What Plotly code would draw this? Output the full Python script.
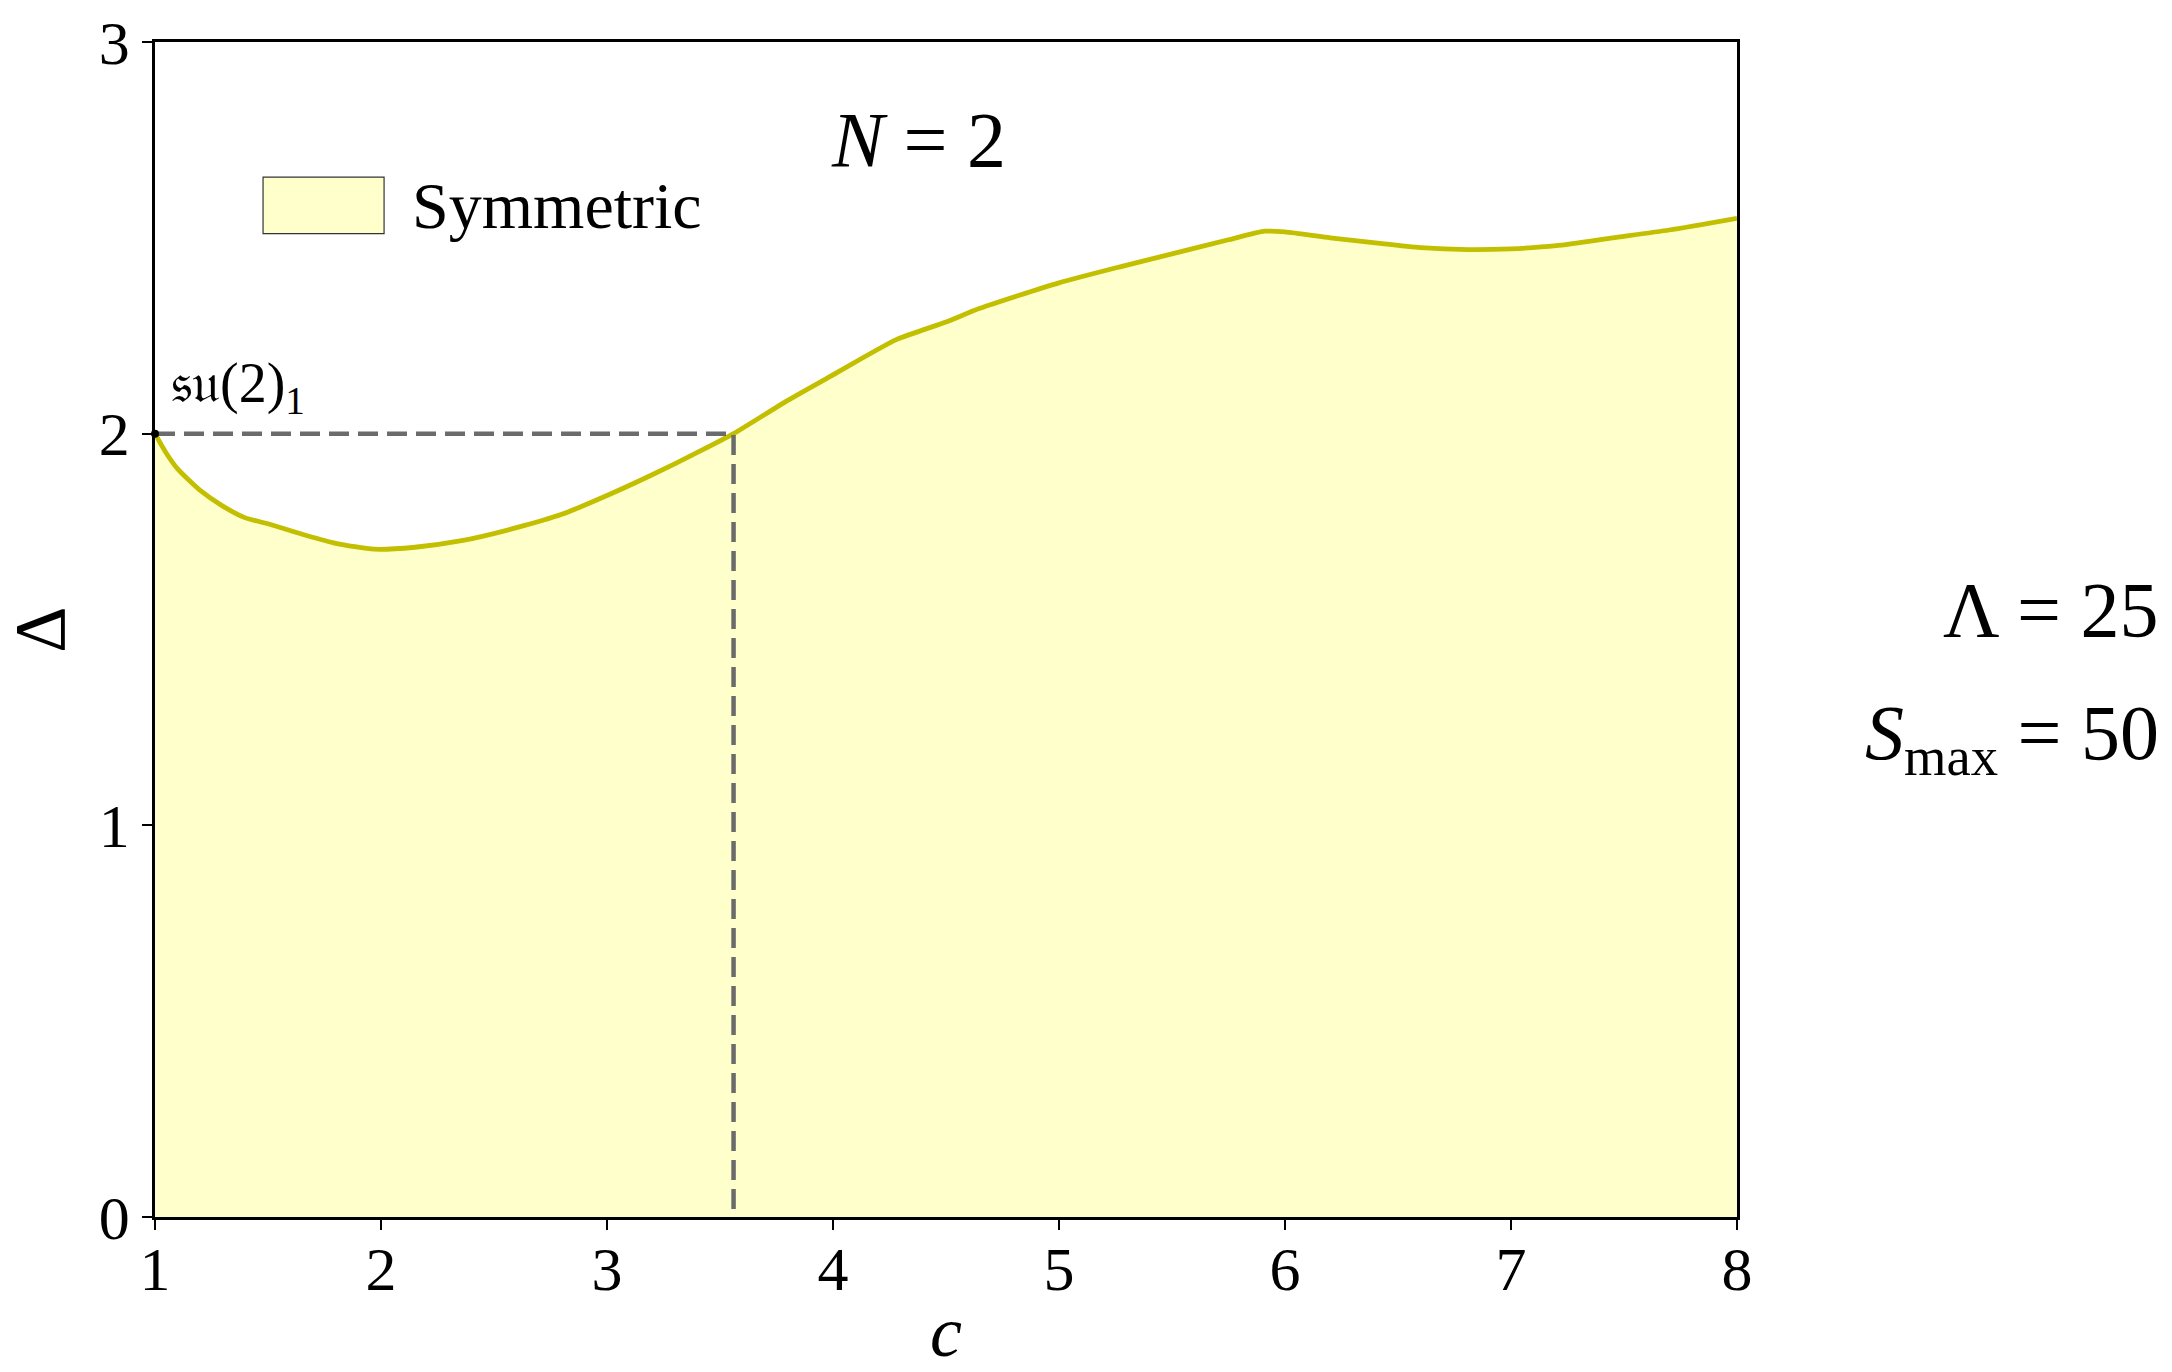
import plotly.graph_objects as go

# Upper boundary of the allowed region (symmetric case)
c_vals = [1.0, 1.05, 1.1, 1.2, 1.3, 1.4, 1.5, 1.67, 1.8, 1.97, 2.15, 2.35, 2.6, 2.8,
          3.0, 3.2, 3.4, 3.56, 3.8, 4.0, 4.28, 4.5, 4.65, 5.0, 5.27, 5.5, 5.75, 5.91,
          6.0, 6.2, 6.4, 6.6, 6.81, 7.0, 7.2, 7.45, 7.7, 8.0]
delta_vals = [2.0, 1.95, 1.91, 1.855, 1.815, 1.785, 1.77, 1.74, 1.72, 1.705, 1.71, 1.726,
              1.76, 1.794, 1.842, 1.895, 1.952, 2.0, 2.085, 2.15, 2.24, 2.285, 2.32, 2.385,
              2.426, 2.459, 2.495, 2.517, 2.515, 2.50, 2.487, 2.475, 2.47, 2.472, 2.48,
              2.50, 2.52, 2.55]

# su(2)_1 point and crossing of Δ = 2
su2_c, su2_delta = 1.0, 2.0
cross_c = 3.56

x_ticks = [1, 2, 3, 4, 5, 6, 7, 8]
y_ticks = [0, 1, 2, 3]

FONT = "Liberation Serif"
LINE_COL = "#C2BF00"
FILL_COL = "#FFFFCC"
DASH_COL = "#6B6B6B"

fig = go.Figure()

fig.add_trace(go.Scatter(
    x=c_vals, y=delta_vals, mode="lines", fill="tozeroy",
    fillcolor=FILL_COL, line=dict(color=LINE_COL, width=4.8, shape="spline", smoothing=0.6),
    showlegend=False, hoverinfo="skip"))

# dashed guide lines: Δ = 2 from the su(2)_1 point, then down to the axis
fig.add_trace(go.Scatter(
    x=[su2_c, cross_c, cross_c], y=[su2_delta, su2_delta, 0],
    mode="lines", line=dict(color=DASH_COL, width=4.5, dash="20px,9px"),
    showlegend=False, hoverinfo="skip", cliponaxis=False))

fig.add_trace(go.Scatter(
    x=[su2_c], y=[su2_delta], mode="markers",
    marker=dict(color="black", size=8), showlegend=False,
    hoverinfo="skip", cliponaxis=False))

axis_common = dict(
    showline=True, linecolor="black", linewidth=2.5, mirror=True,
    ticks="outside", ticklen=10, tickwidth=2, tickcolor="black",
    showgrid=False, zeroline=False,
    tickfont=dict(family=FONT, size=62, color="black"),
)

fig.update_xaxes(range=[1, 8], tickvals=x_ticks, ticktext=[str(t) for t in x_ticks],
                 ticklabelstandoff=-14,
                 title=dict(text="<i>c</i>", font=dict(family=FONT, size=72, color="black"),
                            standoff=22),
                 **axis_common)
fig.update_yaxes(range=[0, 3], tickvals=y_ticks, ticktext=[str(t) for t in y_ticks],
                 title=dict(text="Δ", font=dict(family=FONT, size=72, color="black"),
                            standoff=18),
                 **axis_common)

annotations = [
    dict(x=4.38, y=2.75, xref="x", yref="y", text="<i>N</i> = 2", showarrow=False,
         font=dict(family=FONT, size=78, color="black"), xanchor="center", yanchor="middle"),
    dict(x=1.06, y=2.12, xref="x", yref="y", text="𝔰𝔲(2)<sub>1</sub>", showarrow=False,
         font=dict(family=FONT, size=56, color="black"), xanchor="left", yanchor="middle"),
    dict(x=1.268, y=0.517, xref="paper", yref="paper", text="Λ = 25", showarrow=False,
         font=dict(family=FONT, size=78, color="black"), xanchor="right", yanchor="middle"),
    dict(x=1.268, y=0.408, xref="paper", yref="paper", text="<i>S</i><sub>max</sub> = 50",
         showarrow=False, font=dict(family=FONT, size=78, color="black"),
         xanchor="right", yanchor="middle"),
    dict(x=0.161, y=0.861, xref="paper", yref="paper", text="Symmetric", showarrow=False,
         font=dict(family=FONT, size=66, color="black"), xanchor="left", yanchor="middle"),
]

shapes = [
    dict(type="rect", xref="paper", yref="paper", x0=0.0683, x1=0.1448, y0=0.837, y1=0.885,
         fillcolor=FILL_COL, line=dict(color="#333333", width=1.2)),
]

fig.update_layout(
    width=2172, height=1372,
    margin=dict(l=155, r=435, t=42, b=155, autoexpand=False),
    paper_bgcolor="white", plot_bgcolor="white",
    annotations=annotations, shapes=shapes,
    showlegend=False,
)

fig.write_html("out.html")
